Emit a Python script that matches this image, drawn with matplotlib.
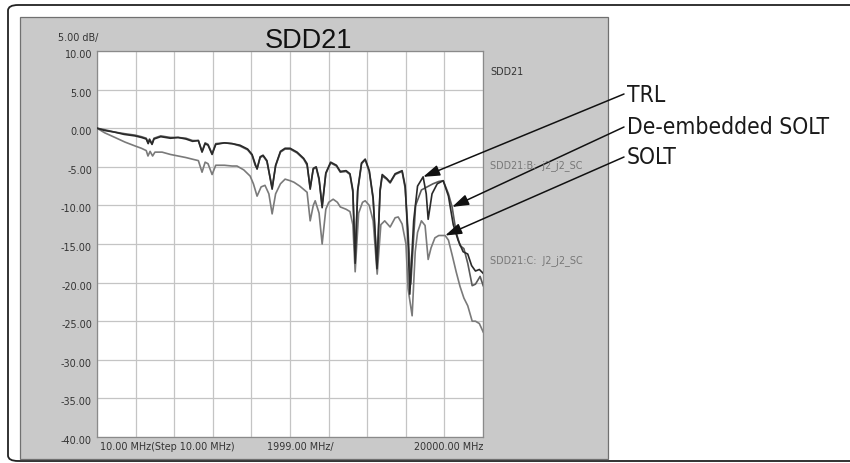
import matplotlib

matplotlib.use("Agg")

import matplotlib.pyplot as plt
import numpy as np
from matplotlib.patches import FancyBboxPatch, Rectangle
from matplotlib import font_manager
from matplotlib.font_manager import FontProperties

# Frequency in GHz, magnitude in dB
trl_f = [0.0, 0.4, 0.9, 1.4, 1.97, 2.3, 2.55, 2.65, 2.72, 2.85, 2.95, 3.3, 3.8, 4.2,
         4.6, 4.95, 5.25, 5.44, 5.6, 5.75, 5.96, 6.15, 6.6, 7.0, 7.4, 7.8, 8.03, 8.19,
         8.29, 8.45, 8.6, 8.8, 9.07, 9.25, 9.5, 9.74, 10.0, 10.36, 10.7, 10.88, 11.04,
         11.2, 11.35, 11.5, 11.66, 11.85, 12.1, 12.4, 12.6, 12.9, 13.1, 13.25, 13.37,
         13.5, 13.7, 13.89, 14.1, 14.3, 14.5, 14.66, 14.77, 15.0, 15.18, 15.44, 15.8,
         15.96, 16.1, 16.2, 16.4, 16.6, 16.89, 17.05, 17.15, 17.35, 17.62, 17.93, 18.2,
         18.45, 18.7, 18.96, 19.2, 19.4, 19.6, 19.8, 20.0]
trl_db = [0.0, -0.3, -0.5, -0.8, -1.0, -1.2, -1.4, -2.0, -1.5, -2.1, -1.4, -1.1, -1.3, -1.2,
          -1.4, -1.7, -1.6, -3.1, -2.0, -2.2, -3.4, -2.1, -1.9, -2.0, -2.2, -2.7, -3.4, -4.6,
          -5.3, -3.7, -3.5, -4.2, -7.9, -4.8, -3.0, -2.6, -2.6, -3.1, -3.9, -4.6, -7.9,
          -5.2, -5.0, -6.5, -10.3, -5.8, -4.4, -4.8, -5.6, -5.5, -5.9, -8.0, -17.5,
          -8.0, -4.5, -4.0, -5.5, -9.0, -18.2, -8.0, -6.0, -6.5, -7.0, -5.9, -5.5,
          -7.5, -14.0, -21.5, -12.0, -7.5, -6.3, -8.5, -11.8, -8.5, -7.2, -6.8, -8.8,
          -12.5, -14.5, -16.0, -16.3, -17.8, -18.5, -18.3, -18.8]

deemb_f = [0.0, 0.4, 0.9, 1.4, 1.97, 2.3, 2.55, 2.65, 2.72, 2.85, 2.95, 3.3, 3.8, 4.2,
           4.6, 4.95, 5.25, 5.44, 5.6, 5.75, 5.96, 6.15, 6.6, 7.0, 7.4, 7.8, 8.03, 8.19,
           8.29, 8.45, 8.6, 8.8, 9.07, 9.25, 9.5, 9.74, 10.0, 10.36, 10.7, 10.88, 11.04,
           11.2, 11.35, 11.5, 11.66, 11.85, 12.1, 12.4, 12.6, 12.9, 13.1, 13.25, 13.37,
           13.5, 13.7, 13.89, 14.1, 14.3, 14.5, 14.66, 14.77, 15.0, 15.18, 15.44, 15.8,
           15.96, 16.1, 16.25, 16.5, 16.8, 17.1, 17.4, 17.7, 17.93, 18.2, 18.39, 18.6,
           18.8, 19.0, 19.2, 19.43, 19.6, 19.84, 20.0]
deemb_db = [0.0, -0.2, -0.5, -0.7, -0.9, -1.1, -1.3, -1.9, -1.4, -2.0, -1.3, -1.0, -1.2, -1.2,
            -1.3, -1.6, -1.6, -3.0, -1.9, -2.1, -3.3, -2.0, -1.9, -2.0, -2.3, -2.8, -3.5, -4.8,
            -5.2, -3.8, -3.6, -4.3, -7.7, -4.9, -3.1, -2.7, -2.7, -3.2, -4.0, -4.8, -7.7,
            -5.3, -5.1, -6.7, -10.0, -5.9, -4.5, -4.9, -5.7, -5.6, -6.0, -8.3, -16.5,
            -8.2, -4.6, -4.1, -5.6, -9.2, -17.6, -8.2, -6.2, -6.6, -7.1, -6.0, -5.6,
            -7.8, -13.0, -20.2, -10.0, -8.0, -7.6, -7.2, -6.9, -6.8, -8.5, -10.2, -13.5,
            -15.2, -15.6, -17.5, -20.4, -20.2, -19.2, -20.4]

solt_f = [0.0, 0.4, 0.93, 1.45, 1.97, 2.3, 2.55, 2.64, 2.75, 2.88, 3.0, 3.37, 3.8, 4.2,
          4.6, 4.92, 5.25, 5.44, 5.6, 5.75, 5.96, 6.15, 6.6, 7.0, 7.25, 7.6, 7.93, 8.1,
          8.29, 8.5, 8.7, 8.9, 9.07, 9.25, 9.5, 9.74, 10.0, 10.2, 10.5, 10.88, 11.04,
          11.2, 11.3, 11.5, 11.66, 11.85, 12.0, 12.23, 12.45, 12.6, 12.9, 13.1, 13.25,
          13.37, 13.55, 13.75, 13.89, 14.1, 14.3, 14.51, 14.7, 14.9, 15.18, 15.44, 15.6,
          15.8, 16.0, 16.11, 16.32, 16.48, 16.6, 16.8, 16.99, 17.15, 17.3, 17.5, 17.7,
          18.03, 18.2, 18.4, 18.6, 18.8, 19.0, 19.2, 19.43, 19.6, 19.8, 20.0]
solt_db = [0.0, -0.6, -1.2, -1.8, -2.3, -2.6, -2.9, -3.6, -3.0, -3.6, -3.1, -3.1, -3.4, -3.6,
           -3.8, -4.0, -4.2, -5.7, -4.4, -4.6, -6.0, -4.8, -4.8, -4.9, -4.9, -5.4, -6.2, -7.2,
           -8.8, -7.6, -7.4, -8.5, -11.1, -8.5, -7.2, -6.6, -6.8, -7.0, -7.5, -8.3, -12.0,
           -10.0, -9.4, -11.0, -15.0, -10.5, -9.6, -9.2, -9.6, -10.2, -10.5, -10.8, -12.5,
           -18.6, -11.0, -9.6, -9.4, -10.0, -12.0, -18.9, -12.5, -12.0, -12.8, -11.6, -11.5,
           -12.4, -15.0, -20.8, -24.3, -16.0, -13.5, -12.0, -12.6, -17.0, -15.5, -14.2, -13.9,
           -13.9, -14.5, -16.5, -18.6, -20.5, -22.0, -23.0, -25.0, -25.0, -25.3, -26.4]

y_ticks = [10, 5, 0, -5, -10, -15, -20, -25, -30, -35, -40]

# (label, arrow tip frequency in GHz, arrow tip dB, text centre y in pixels)
callouts = [
    ("TRL", 16.89, -6.3, 95),
    ("De-embedded SOLT", 18.39, -10.2, 128),
    ("SOLT", 18.03, -13.9, 158),
]

W, H = 850, 464
DPI = 100


def pick_narrow_font():
    # prefer a condensed/narrow face for the callout labels
    for f in font_manager.fontManager.ttflist:
        low = f.fname.lower()
        if ("condensed" in low or "narrow" in low) and "bold" not in low \
                and "italic" not in low and "oblique" not in low:
            return FontProperties(fname=f.fname, size=16.4)
    return FontProperties(family="Liberation Sans", size=15.5)


callout_font = pick_narrow_font()

fig = plt.figure(figsize=(W / DPI, H / DPI), dpi=DPI, facecolor="white")


def px(x, y):
    return x / W, 1 - y / H


# outer rounded frame (runs off the right edge)
frame = FancyBboxPatch(px(8, 462), 900 / W, 456 / H,
                       boxstyle="round,pad=0,rounding_size=0.012",
                       transform=fig.transFigure, facecolor="none",
                       edgecolor="#222222", lw=1.3, clip_on=False, zorder=-3)
fig.patches.append(frame)

# analyzer screen background
screen = Rectangle(px(20, 460), 588 / W, 442 / H, transform=fig.transFigure,
                   facecolor="#c9c9c9", edgecolor="#707070", lw=0.9, zorder=-2)
fig.patches.append(screen)

ax = fig.add_axes([97 / W, 1 - 438 / H, 386 / W, 386 / H])
ax.set_facecolor("white")

to_mhz = lambda f: np.asarray(f) * 1000.0 + 10.0
ax.plot(to_mhz(solt_f), solt_db, color="#7a7a7a", lw=1.2, zorder=3)
ax.plot(to_mhz(deemb_f), deemb_db, color="#5a5a5a", lw=1.2, zorder=4)
ax.plot(to_mhz(trl_f), trl_db, color="#2a2a2a", lw=1.2, zorder=5)

ax.set_xlim(10, 20000)
ax.set_ylim(-40, 10)
ax.set_xticks(np.linspace(10, 20000, 11))
ax.set_yticks(y_ticks)
ax.set_xticklabels([])
ax.set_yticklabels([])
ax.tick_params(length=0)
ax.grid(True, color="#c4c4c4", lw=0.9)
ax.set_axisbelow(True)
for s in ax.spines.values():
    s.set_color("#8a8a8a")
    s.set_linewidth(0.9)

small = dict(fontsize=6.9, color="#333333", family="DejaVu Sans")
for v in y_ticks:
    yy = 52 + (10 - v) * 386 / 50 + 3
    fig.text(*px(92, yy), f"{v:.2f}", ha="right", va="center", **small)

fig.text(*px(58, 38), "5.00 dB/", ha="left", va="center", **small)
fig.text(*px(100, 447), "10.00 MHz(Step 10.00 MHz)", ha="left", va="center", **small)
fig.text(*px(267, 447), "1999.00 MHz/", ha="left", va="center", **small)
fig.text(*px(483, 447), "20000.00 MHz", ha="right", va="center", **small)

fig.text(*px(490, 72), "SDD21", ha="left", va="center", **small)
side = dict(small, color="#777777")
fig.text(*px(490, 166), "SDD21:B:  j2_j2_SC", ha="left", va="center", **side)
fig.text(*px(490, 261), "SDD21:C:  J2_j2_SC", ha="left", va="center", **side)

fig.text(*px(308, 41), "SDD21", ha="center", va="center", fontsize=19.5,
         color="#111111", family="Liberation Sans")

for label, f, db, ty in callouts:
    fig.text(*px(627, ty), label, ha="left", va="center",
             fontproperties=callout_font, color="#1a1a1a")
    ax.annotate("", xy=(to_mhz(f), db), xycoords="data",
                xytext=px(624, ty), textcoords="figure fraction",
                arrowprops=dict(arrowstyle="-|>,head_length=1.0,head_width=0.33",
                                color="#111111", lw=1.1, shrinkA=0, shrinkB=0),
                annotation_clip=False, zorder=10)

fig.savefig("out.png", dpi=DPI, facecolor="white")
